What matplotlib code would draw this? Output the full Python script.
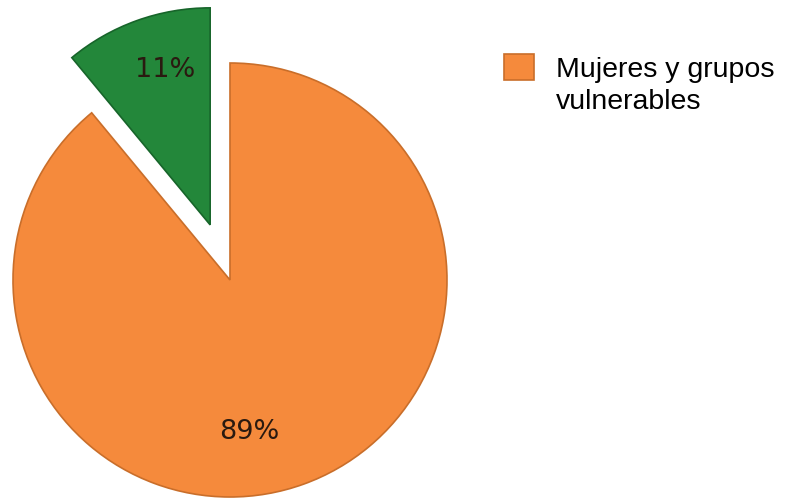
import matplotlib.pyplot as plt

# pie data
shares = [89, 11]
labels = ['Mujeres y grupos', 'vulnerables']
colors = ['#F58A3C', '#23873A']
edges = ['#C96E2A', '#17652A']
explode = [0, 0.27]

fig = plt.figure(figsize=(7.9, 5.04), dpi=100)
ax = fig.add_axes([0, 0, 1, 1])

wedges, texts, autotexts = ax.pie(
    shares, explode=explode, colors=colors, startangle=90, counterclock=False,
    autopct='%1.0f%%', pctdistance=0.72, radius=1,
    wedgeprops=dict(linewidth=1.2),
    textprops=dict(fontsize=19.5, color='#2a1a10', family='DejaVu Sans'))
for w, ec in zip(wedges, edges):
    w.set_edgecolor(ec)

# nudge the percent labels to where they sit in the original
autotexts[0].set_position((0.09, -0.70))
autotexts[1].set_position((-0.30, 0.97))

# center of the big slice sits at (230, 280) px, radius 217 px
scale = 217
ax.set_xlim(-230 / scale, (790 - 230) / scale)
ax.set_ylim(-(504 - 280) / scale, 280 / scale)
ax.set_aspect('equal')
ax.axis('off')

# legend only has the orange entry; second line added under it
leg = ax.legend([wedges[0]], [labels[0]], loc='upper left',
                bbox_to_anchor=(0.606, 0.944), frameon=False,
                prop=dict(family='Liberation Sans', size=20.5),
                handlelength=1.05, handleheight=1.05, handletextpad=0.75)
fig.canvas.draw()
bb = leg.get_texts()[0].get_window_extent().transformed(fig.transFigure.inverted())
fig.text(bb.x0, bb.y0 - 0.063, labels[1], family='Liberation Sans',
         size=20.5, va='bottom', ha='left')

fig.savefig('out.png', dpi=100)
